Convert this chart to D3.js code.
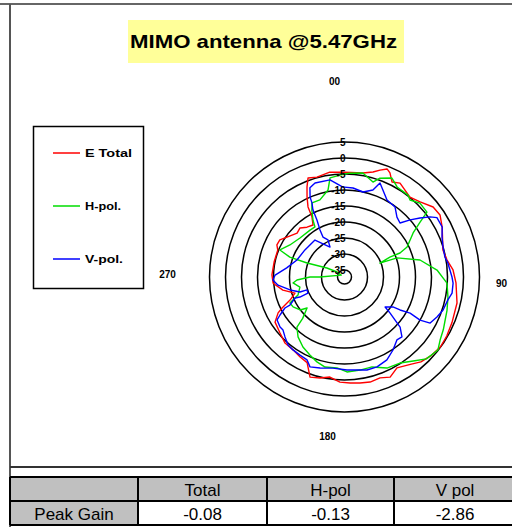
<!DOCTYPE html>
<html><head><meta charset="utf-8">
<script src="https://cdn.jsdelivr.net/npm/d3@7"></script>
<style>body{margin:0;background:#fff}svg{display:block}</style>
</head><body><svg id="c" width="512" height="527"></svg>
<script>
// ---------- data ----------
const chartTitle = "MIMO antenna @5.47GHz";
const ringValues = [5, 0, -5, -10, -15, -20, -25, -30, -35];
const ringLabels = ["5", "0", "-5", "-10", "-15", "-20", "-25", "-30", "-35"];
const angleLabels = ["00", "90", "180", "270"];
const seriesNames = ["E Total", "H-pol.", "V-pol."];
const seriesColors = ["#ff0000", "#00dd00", "#0000ff"];
const tableHeader = ["", "Total", "H-pol", "V pol"];
const tableRowLabel = "Peak Gain";
const peakGain = ["-0.08", "-0.13", "-2.86"];

const totalAngles = [0,10,15.2,18.4,21.5,23.6,26.6,30.6,39.3,45.2,51.7,57,62.9,74.7,80.6,86.3,93,103,113,120,126,132,138,143,150,155.5,160.6,166.3,171.7,177,182.5,188.3,193.6,199,203.6,209,215,222,229,237,241.6,243.6,247,252,258,265,271.6,282,292,295.4,299.8,304.8,312.8,317.8,323,328.8,331.6,332.5,334.9,337.4,339.8,344.6,352,357.5,360];
const totalDb = [-4.4,-4.2,-3.2,-2.0,-0.9,-1.7,-4.0,-3.1,-4.9,-3.9,-1.9,-1.6,-2.9,-5.3,-4.7,-3.2,-2.3,-1.1,-0.7,-0.3,-0.1,-0.6,-1.5,-3.0,-4.4,-2.8,-3.75,-3.4,-3.7,-4.0,-4.3,-5.6,-4.7,-4.1,-8.0,-8.6,-9.3,-9.4,-10.5,-11.3,-13.6,-15.4,-18.7,-20.9,-17.5,-14.8,-14.5,-14.7,-14.7,-13.8,-13.9,-15.3,-17.0,-16.5,-17.7,-18.2,-15.8,-12.5,-9.6,-6.7,-4.2,-4.8,-4.1,-4.4,-4.4];

const hpolAngles = [0,3,10,16.7,19.7,25.6,30.3,37.8,40.4,45.6,51.8,54,57.3,64.4,66.6,66.3,68.5,70,77.3,85.7,93.4,101,108,113,118,123.4,128,135,140,147.2,155,163,170.5,178.5,184.7,192.2,198,203.9,210.7,217.8,223.5,225.3,230.4,233.4,239.8,244.5,248.8,257.3,263.4,266.4,270,270,300,304,297,290.5,290,292.7,300.4,311.2,323.7,329.5,331,334,336.3,342.3,349.3,351.7,357.5,360];
const hpolDb = [-5.0,-4.7,-4.2,-6.2,-4.4,-2.9,-4.6,-4.8,-5.6,-4.2,-4.4,-8,-11.7,-15.5,-18.3,-21.7,-25.3,-19.7,-13,-8.2,-5.1,-4.25,-3.5,-3,-2.2,-1.4,-0.13,-1.0,-3.0,-5.2,-5.8,-7.8,-7.7,-7.5,-8.7,-8.4,-9.3,-10.5,-11.75,-13.5,-15.6,-18.8,-22,-19.9,-18.6,-18.3,-21.6,-22.9,-21,-22.3,-26.4,-29.5,-36,-34.4,-31,-24.7,-19,-15.3,-17.4,-18.7,-19,-19,-16.9,-13.9,-11.9,-11.9,-9.5,-5.9,-5.3,-5.0];

const vpolAngles = [0,5.5,12.3,18.1,20.7,28.9,35.8,41.2,45.8,49,52,54.9,57.3,62.9,67.7,73,78.7,82.3,90,93.2,98.5,102.5,108.5,113.4,118.3,119.7,118.8,120.7,121.7,126.5,128.4,130.4,132,136.2,140.2,146.4,152.9,160.1,166.4,178.5,187.2,195,201,204.3,209.7,215.2,219.7,224.8,229.2,232.2,237.5,239.5,242.5,242.8,247,245.8,246.3,251,251.4,256.6,263,267.6,271.6,279,289.7,304.4,321.4,334.2,336,331.7,332.5,334.2,334.8,336.3,336.7,338.8,342.6,351.5,359,360];
const vpolDb = [-9.1,-9.25,-10,-8.6,-5.8,-9.7,-10.2,-12.3,-13,-10,-7.25,-4.5,-2.86,-2.9,-4.25,-5,-5.2,-4.6,-3.6,-3.2,-3.2,-4.1,-4.7,-5.7,-6.8,-10,-13.8,-17,-19.4,-21.4,-19,-16.5,-13.8,-11.25,-11.6,-9.8,-8.1,-7.3,-7.3,-8.1,-8.5,-7.75,-7.1,-8.75,-9.1,-9.3,-9.6,-10.8,-11.8,-11.7,-12.2,-13.8,-16.2,-18,-20.4,-21.9,-24.7,-24.8,-22.5,-19.7,-16.25,-14.8,-15.5,-18.9,-21.4,-22.2,-22.4,-26.8,-24.5,-23,-20.6,-17.4,-14,-11.9,-10,-7.3,-6.4,-6.5,-9.1,-9.1];

// ---------- drawing ----------
const svg = d3.select("#c");
const W = 512, H = 527;
const cx = 344.5, cy = 277;
const FONT = "'Liberation Sans', Arial, sans-serif";

const r = d3.scaleLinear().domain([-35, 5]).range([7, 135]);
const a = d3.scaleLinear().domain([0, 360]).range([0, 2 * Math.PI]);

svg.append("rect").attr("width", W).attr("height", H).attr("fill", "#fff");

// frame
svg.append("line").attr("x1", 0).attr("x2", W).attr("y1", 4).attr("y2", 4)
  .attr("stroke", "#666").attr("stroke-width", 2);
svg.append("line").attr("x1", 10).attr("x2", 10).attr("y1", 4).attr("y2", H)
  .attr("stroke", "#555").attr("stroke-width", 2);

// title
svg.append("rect").attr("x", 128).attr("y", 20).attr("width", 276).attr("height", 43).attr("fill", "#ffff99");
svg.append("text").attr("x", 130).attr("y", 48).attr("font-family", FONT).attr("font-weight", "bold")
  .attr("font-size", 19).attr("textLength", 267).attr("lengthAdjust", "spacingAndGlyphs")
  .attr("fill", "#000").text(chartTitle);

// polar grid
const g = svg.append("g").attr("transform", `translate(${cx},${cy})`);
g.selectAll("circle.ring").data(ringValues).join("circle").attr("class", "ring")
  .attr("r", d => r(d)).attr("fill", "none").attr("stroke", "#000").attr("stroke-width", 1.5);

// series
const series = [
  {angles: totalAngles, db: totalDb},
  {angles: hpolAngles, db: hpolDb},
  {angles: vpolAngles, db: vpolDb}
];
const line = d3.lineRadial().angle(d => a(d[0])).radius(d => Math.max(0, r(d[1])));
series.forEach((s, i) => {
  const pts = s.angles.map((ang, k) => [ang, s.db[k]]);
  g.append("path").attr("d", line(pts)).attr("fill", "none")
    .attr("stroke", seriesColors[i]).attr("stroke-width", 1.4).attr("stroke-linejoin", "round");
});

// ring labels
g.selectAll("text.rl").data(ringValues).join("text").attr("class", "rl")
  .attr("x", 1).attr("y", d => -r(d)).attr("dy", "0.36em").attr("text-anchor", "end")
  .attr("font-family", FONT).attr("font-weight", "bold").attr("font-size", 10).attr("fill", "#000")
  .text((d, i) => ringLabels[i]);

// angle labels
const angPos = [[-10, -196], [157, 6], [-17, 159], [-177, -3]];
g.selectAll("text.al").data(angleLabels).join("text").attr("class", "al")
  .attr("x", (d, i) => angPos[i][0]).attr("y", (d, i) => angPos[i][1]).attr("dy", "0.36em")
  .attr("text-anchor", "middle").attr("font-family", FONT).attr("font-weight", "bold")
  .attr("font-size", 10).attr("fill", "#000").text(d => d);

// legend
svg.append("rect").attr("x", 33.5).attr("y", 126.5).attr("width", 110).attr("height", 162)
  .attr("fill", "#fff").attr("stroke", "#000").attr("stroke-width", 1.5);
const legY = d3.scalePoint().domain(seriesNames).range([153, 259]);
const legW = [47, 36, 38];
seriesNames.forEach((n, i) => {
  svg.append("line").attr("x1", 53).attr("x2", 80).attr("y1", legY(n)).attr("y2", legY(n))
    .attr("stroke", seriesColors[i]).attr("stroke-width", 1.5);
  svg.append("text").attr("x", 85).attr("y", legY(n)).attr("dy", "0.36em")
    .attr("font-family", FONT).attr("font-weight", "bold").attr("font-size", 10)
    .attr("textLength", legW[i]).attr("lengthAdjust", "spacingAndGlyphs").attr("fill", "#000").text(n);
});

// bottom separators
svg.append("line").attr("x1", 10).attr("x2", W).attr("y1", 467).attr("y2", 467).attr("stroke", "#333").attr("stroke-width", 2);

// table
const colX = [10, 138, 267, 394, 516];
const rowY = [477, 501, 525];
const tg = svg.append("g");
for (let c = 0; c < 4; c++) {
  tg.append("rect").attr("x", colX[c]).attr("y", rowY[0]).attr("width", colX[c + 1] - colX[c]).attr("height", rowY[1] - rowY[0]).attr("fill", "#c0c0c0");
  tg.append("rect").attr("x", colX[c]).attr("y", rowY[1]).attr("width", colX[c + 1] - colX[c]).attr("height", rowY[2] - rowY[1]).attr("fill", c === 0 ? "#c0c0c0" : "#fff");
}
rowY.forEach(y => tg.append("line").attr("x1", 10).attr("x2", W).attr("y1", y).attr("y2", y).attr("stroke", "#000").attr("stroke-width", 2));
colX.forEach(x => tg.append("line").attr("x1", x).attr("x2", x).attr("y1", rowY[0]).attr("y2", rowY[2]).attr("stroke", "#000").attr("stroke-width", 2));
tableHeader.forEach((t, c) => {
  tg.append("text").attr("x", (colX[c] + colX[c + 1]) / 2).attr("y", 496).attr("text-anchor", "middle")
    .attr("font-family", FONT).attr("font-size", 17).attr("fill", "#000").text(t);
});
const row2 = [tableRowLabel].concat(peakGain);
row2.forEach((t, c) => {
  tg.append("text").attr("x", (colX[c] + colX[c + 1]) / 2).attr("y", 520).attr("text-anchor", "middle")
    .attr("font-family", FONT).attr("font-size", 17).attr("fill", "#000").text(t);
});
</script></body></html>
